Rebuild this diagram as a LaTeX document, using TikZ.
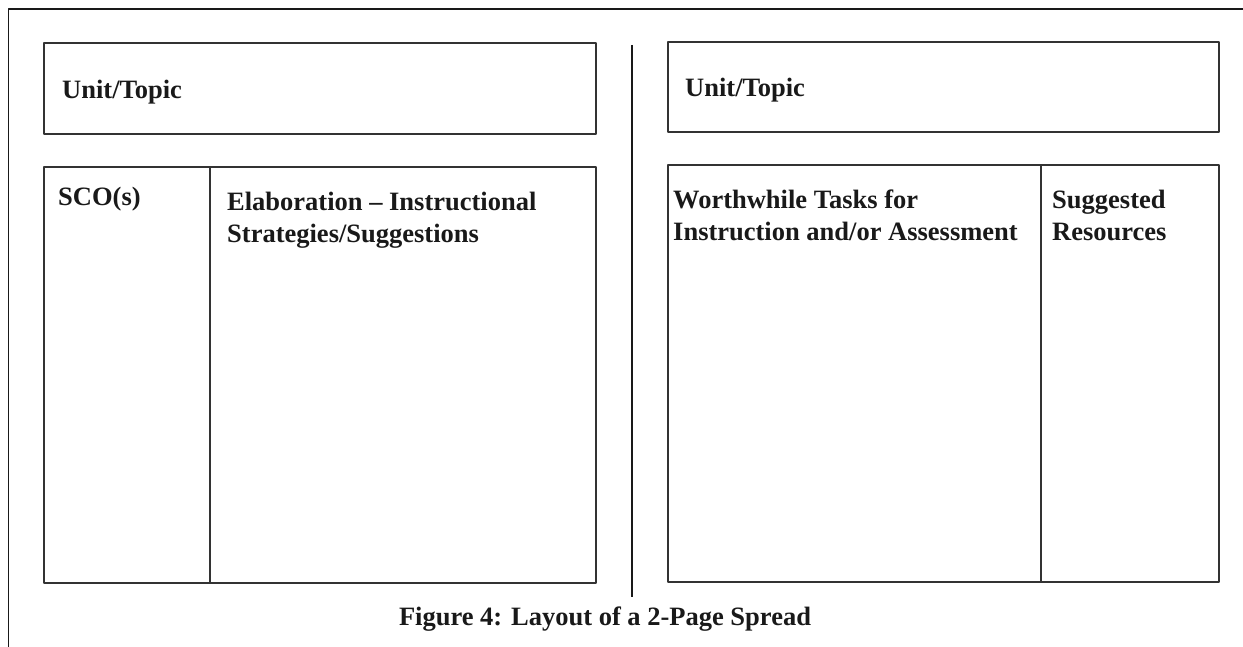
\documentclass[tikz,border=0pt]{standalone}
\usepackage{fontspec}
\setmainfont{Liberation Serif}
\begin{document}
\begin{tikzpicture}[line join=bevel,
  panel/.style={draw=black!80,line width=1.3bp,rectangle,inner sep=0pt},
  label/.style={anchor=base west,inner sep=0pt,font=\fontsize{26.5bp}{32bp}\selectfont\bfseries,text=black!90}]
%%
\useasboundingbox (0bp,0bp) rectangle (1243bp,647bp);
\coordinate (frame end) at (1243bp,638bp);
\coordinate (frame corner) at (8.5bp,638bp);
\coordinate (frame foot) at (8.5bp,0bp);
\draw [line width=1.3bp,black!90] (frame end) -- (frame corner) -- (frame foot);
%
  \node (lunit) at (320bp,558.5bp) [panel,minimum width=552bp,minimum height=91bp] {};
  \node (sco) at (127bp,272bp) [panel,minimum width=166bp,minimum height=416bp] {};
  \node (elab) at (403bp,272bp) [panel,minimum width=386bp,minimum height=416bp] {};
  \node (runit) at (943.5bp,560bp) [panel,minimum width=551bp,minimum height=90bp] {};
  \node (tasks) at (854.5bp,273.5bp) [panel,minimum width=373bp,minimum height=417bp] {};
  \node (res) at (1130bp,273.5bp) [panel,minimum width=178bp,minimum height=417bp] {};
  \coordinate (spine top) at (632bp,602bp);
  \coordinate (spine foot) at (632bp,50bp);
  \draw [line width=1.3bp,black!90] (spine top) -- (spine foot);
%
  \node (lunitlab) at (62bp,548bp) [label] {Unit/Topic};
  \node (runitlab) at (685bp,550bp) [label] {Unit/Topic};
  \node (scolab) at (58bp,441bp) [label] {SCO(s)};
  \node (elabA) at (227bp,436bp) [label] {Elaboration -- Instructional};
  \node (elabB) at (227bp,404bp) [label] {Strategies/Suggestions};
  \node (tasksA) at (673bp,438bp) [label] {Worthwhile Tasks for};
  \node (tasksB) at (673bp,406bp) [label] {Instruction and/or Assessment};
  \node (resA) at (1052bp,438bp) [label] {Suggested};
  \node (resB) at (1052bp,406bp) [label] {Resources};
  \node (caption) at (605bp,22bp) [label,anchor=base] {Figure 4: Layout of a 2-Page Spread};
%
\end{tikzpicture}
\end{document}
